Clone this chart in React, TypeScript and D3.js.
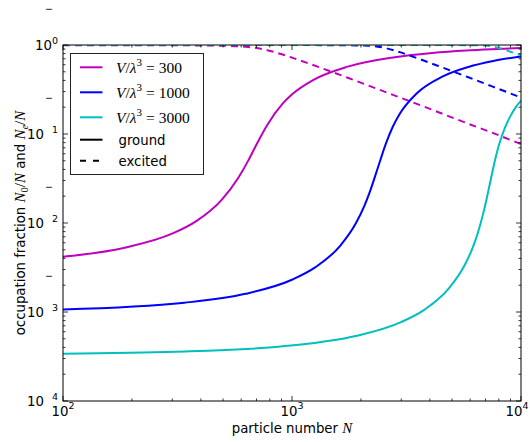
import React from "react";
import * as d3 from "d3";

// ---- data ----
const N300 = [100, 188, 303, 382, 493, 584, 644, 690, 781, 910, 1007, 1236, 1750, 2759, 4098, 5768, 7436, 10000];
const ground300 = [0.00418, 0.00531, 0.00769, 0.0105, 0.0182, 0.0325, 0.0502, 0.071, 0.127, 0.219, 0.283, 0.404, 0.571, 0.7245, 0.813, 0.867, 0.896, 0.923];
const excited300 = [0.9958, 0.9947, 0.9923, 0.9895, 0.9818, 0.9675, 0.9498, 0.929, 0.873, 0.781, 0.717, 0.596, 0.429, 0.2755, 0.187, 0.133, 0.104, 0.077];

const N1000 = [100, 339, 626, 1005, 1262, 1623, 1903, 2070, 2187, 2371, 2568, 2755, 2956, 3501, 4533, 5884, 7562, 10000];
const ground1000 = [0.00107, 0.00127, 0.0016, 0.00232, 0.00317, 0.00554, 0.00998, 0.0156, 0.0224, 0.0418, 0.0775, 0.1206, 0.1688, 0.2854, 0.441, 0.566, 0.661, 0.743];
const excited1000 = [0.9989, 0.9987, 0.9984, 0.9977, 0.9968, 0.9945, 0.99, 0.9844, 0.9776, 0.958, 0.9225, 0.879, 0.831, 0.715, 0.559, 0.434, 0.339, 0.257];

const N3000 = [100, 311, 1015, 1875, 3012, 3779, 4852, 5672, 6147, 6463, 6914, 7305, 7600, 7869, 8097, 8504, 8987, 9601, 10000];
const ground3000 = [0.00034, 0.000357, 0.000422, 0.000533, 0.000775, 0.001058, 0.001855, 0.00335, 0.00526, 0.00758, 0.01432, 0.02724, 0.04373, 0.0634, 0.0822, 0.1175, 0.1589, 0.2082, 0.2378];
const excited3000 = [0.99966, 0.99964, 0.99958, 0.99947, 0.99923, 0.99894, 0.99815, 0.99665, 0.99474, 0.99242, 0.9857, 0.9728, 0.9563, 0.9366, 0.9178, 0.8825, 0.8411, 0.7918, 0.7622];

const seriesLabels = ["300", "1000", "3000"];
const seriesColors = ["#bf00bf", "#0000ff", "#00bfbf"];
const xTickExps = [2, 3, 4];
const yTickExps = [0, -1, -2, -3, -4];

const W = 530, H = 442;
const L = 63, R = 521, T = 45, B = 401;
const SANS = "'DejaVu Sans', sans-serif";
const SERIF = "'Liberation Serif', serif";

export default function App() {
  const x = d3.scaleLog().domain([100, 10000]).range([L, R]);
  const y = d3.scaleLog().domain([1e-4, 1]).range([B, T]);
  const line = d3
    .line<[number, number]>()
    .x((d) => x(d[0]))
    .y((d) => y(d[1]))
    .curve(d3.curveMonotoneX);

  const series = [
    { N: N300, g: ground300, e: excited300 },
    { N: N1000, g: ground1000, e: excited1000 },
    { N: N3000, g: ground3000, e: excited3000 },
  ];

  const xMinor: number[] = [];
  for (let e = 2; e < 4; e++) for (let k = 2; k <= 9; k++) xMinor.push(k * Math.pow(10, e));
  const yMinor: number[] = [];
  for (let e = -4; e < 0; e++) for (let k = 2; k <= 9; k++) yMinor.push(k * Math.pow(10, e));

  const MAJ = 5, MIN = 2.5;
  const dash = "7,5";

  return (
    <svg width={W} height={H} style={{ position: "absolute", left: 0, top: 0, background: "#fff" }}>
      <defs>
        <clipPath id="plotclip">
          <rect x={L} y={T} width={R - L} height={B - T} />
        </clipPath>
      </defs>
      <rect x={0} y={0} width={W} height={H} fill="#fff" />

      {/* data lines */}
      <g clipPath="url(#plotclip)" fill="none" strokeWidth={2}>
        {series.map((s, i) => (
          <g key={i}>
            <path d={line(s.N.map((n, j) => [n, s.g[j]]) as [number, number][]) || ""} stroke={seriesColors[i]} />
            <path d={line(s.N.map((n, j) => [n, s.e[j]]) as [number, number][]) || ""} stroke={seriesColors[i]} strokeDasharray={dash} />
          </g>
        ))}
      </g>

      {/* ticks */}
      <g stroke="#000" strokeWidth={0.8}>
        {xTickExps.map((e) => {
          const px = x(Math.pow(10, e));
          return (
            <g key={"xt" + e}>
              <line x1={px} x2={px} y1={B} y2={B - MAJ} />
              <line x1={px} x2={px} y1={T} y2={T + MAJ} />
            </g>
          );
        })}
        {xMinor.map((v) => {
          const px = x(v);
          return (
            <g key={"xm" + v}>
              <line x1={px} x2={px} y1={B} y2={B - MIN} />
              <line x1={px} x2={px} y1={T} y2={T + MIN} />
            </g>
          );
        })}
        {yTickExps.map((e) => {
          const py = y(Math.pow(10, e));
          return (
            <g key={"yt" + e}>
              <line x1={L} x2={L + MAJ} y1={py} y2={py} />
              <line x1={R} x2={R - MAJ} y1={py} y2={py} />
            </g>
          );
        })}
        {yMinor.map((v) => {
          const py = y(v);
          return (
            <g key={"ym" + v}>
              <line x1={L} x2={L + MIN} y1={py} y2={py} />
              <line x1={R} x2={R - MIN} y1={py} y2={py} />
            </g>
          );
        })}
      </g>

      {/* spines */}
      <rect x={L} y={T} width={R - L} height={B - T} fill="none" stroke="#000" strokeWidth={1} />

      {/* x tick labels */}
      <g fontFamily={SANS} fontSize={13.3} fill="#000">
        {xTickExps.map((e) => (
          <text key={"xl" + e} x={Math.min(x(Math.pow(10, e)), 517)} y={415.5} textAnchor="middle">
            10
            <tspan dy={-6.5} fontSize={9.5}>{e}</tspan>
          </text>
        ))}
      </g>

      {/* y tick labels (minus signs displaced as in the reference) */}
      <g fontFamily={SANS} fontSize={13.3} fill="#000">
        {yTickExps.map((e) => {
          const py = y(Math.pow(10, e));
          return (
            <g key={"yl" + e}>
              <text x={58} y={py + 5} textAnchor="end">
                10
                <tspan dy={-6} fontSize={9.5}>
                  {e < 0 ? <tspan fillOpacity={0}>−</tspan> : null}
                  {Math.abs(e)}
                </tspan>
              </text>
              {e < 0 ? (
                <text x={49} y={py - 126 + 3.5} textAnchor="middle" fontSize={9.5}>
                  −
                </text>
              ) : null}
            </g>
          );
        })}
      </g>

      {/* axis labels */}
      <text x={(L + R) / 2} y={433} textAnchor="middle" fontFamily={SANS} fontSize={13.3}>
        particle number <tspan fontFamily={SERIF} fontStyle="italic" fontSize={15}>N</tspan>
      </text>
      <text transform={`translate(25,${(T + B) / 2}) rotate(-90)`} textAnchor="middle" fontFamily={SANS} fontSize={13.3}>
        occupation fraction{" "}
        <tspan fontFamily={SERIF} fontStyle="italic" fontSize={15}>N</tspan>
        <tspan fontFamily={SERIF} fontSize={10.5} dy={3}>0</tspan>
        <tspan fontFamily={SERIF} fontSize={15} dy={-3}>/</tspan>
        <tspan fontFamily={SERIF} fontStyle="italic" fontSize={15}>N</tspan>
        {" and "}
        <tspan fontFamily={SERIF} fontStyle="italic" fontSize={15}>N</tspan>
        <tspan fontFamily={SERIF} fontStyle="italic" fontSize={10.5} dy={3}>e</tspan>
        <tspan fontFamily={SERIF} fontSize={15} dy={-3}>/</tspan>
        <tspan fontFamily={SERIF} fontStyle="italic" fontSize={15}>N</tspan>
      </text>

      {/* legend */}
      <g>
        <rect x={70.5} y={53.5} width={133} height={121} fill="#fff" stroke="#222" strokeWidth={1} />
        {seriesLabels.map((lab, i) => {
          const ly = 67.3 + i * 25;
          return (
            <g key={"lg" + i}>
              <line x1={80} x2={102.5} y1={ly} y2={ly} stroke={seriesColors[i]} strokeWidth={2} />
              <text x={116} y={ly + 5.5} fontFamily={SERIF} fontSize={15.5} fill="#000">
                <tspan fontStyle="italic">V</tspan>/<tspan fontStyle="italic">λ</tspan>
                <tspan fontSize={11} dy={-6.5}>3</tspan>
                <tspan dy={6.5} dx={4}>=</tspan>
                <tspan dx={4}>{lab}</tspan>
              </text>
            </g>
          );
        })}
        <line x1={80} x2={102.5} y1={139.7} y2={139.7} stroke="#000" strokeWidth={2} />
        <text x={118.5} y={144.5} fontFamily={SANS} fontSize={13.3}>ground</text>
        <line x1={80} x2={102.5} y1={160.7} y2={160.7} stroke="#000" strokeWidth={2} strokeDasharray="6,7" />
        <text x={118.5} y={165.5} fontFamily={SANS} fontSize={13.3}>excited</text>
      </g>
    </svg>
  );
}
